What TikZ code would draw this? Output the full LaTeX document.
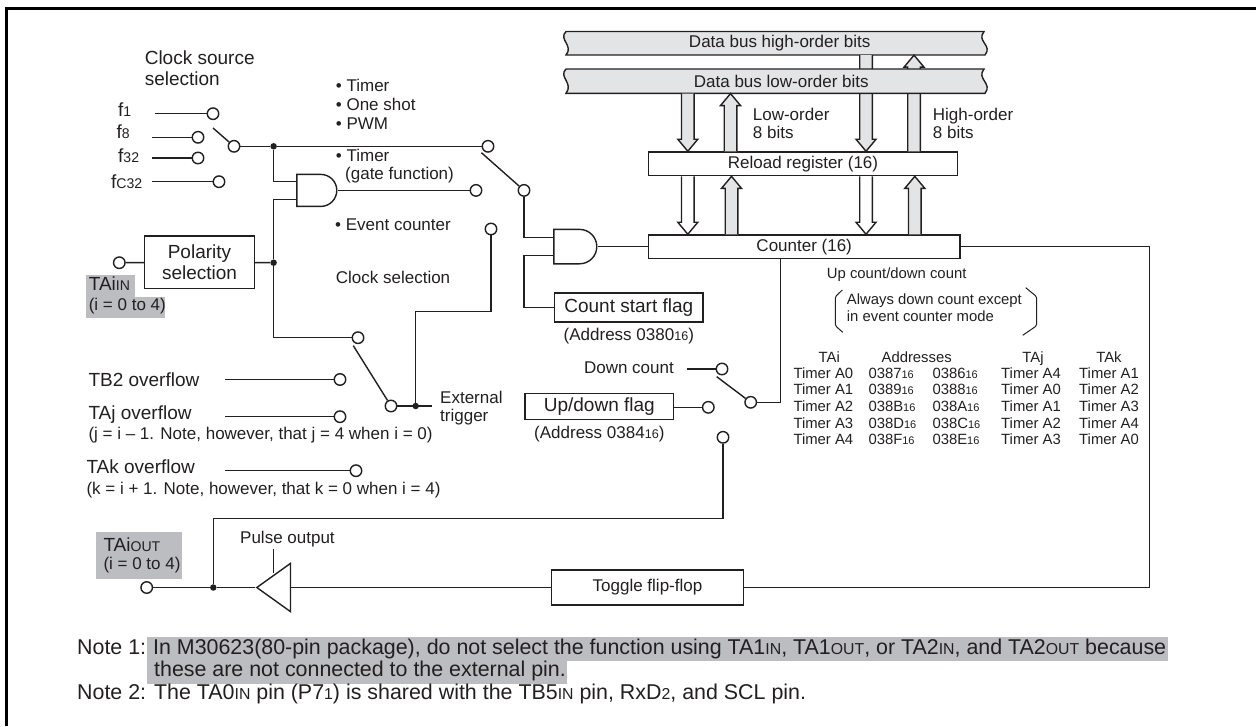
\documentclass[tikz,border=0pt]{standalone}
\usepackage{fontspec}
\setmainfont{Liberation Sans}
\usetikzlibrary{positioning,calc,shapes.geometric,shapes.gates.logic.US}
\definecolor{ink}{HTML}{231F20}
\definecolor{busgray}{HTML}{E3E4E5}
\definecolor{hilite}{HTML}{BCBDC0}
\newcommand{\sm}[1]{{\addfontfeature{Scale=0.74}#1}}
\newcommand{\busband}[2]{%
  \filldraw[wire, fill=busgray] (566,#1) .. controls (558,#1+8) and (574,#1+14) .. (566,#2)
    -- (985,#2) .. controls (993,#2-10) and (976,#1+10) .. (984,#1) -- cycle;}

\begin{document}
\begin{tikzpicture}[
    x=1pt, y=-1pt,
    every node/.style={text=ink},
    wire/.style={draw=ink, line width=1.4pt},
    term/.style={circle, draw=ink, fill=white, line width=1.4pt, inner sep=0pt, minimum size=11.5pt},
    junc/.style={circle, fill=ink, inner sep=0pt, minimum size=6.5pt},
    block/.style={rectangle, draw=ink, fill=white, line width=1.4pt, inner sep=0pt, align=center, font=\fontsize{17}{21}\selectfont},
    bigblock/.style={block, font=\fontsize{19}{21}\selectfont},
    lbl/.style={inner sep=0pt, anchor=west, align=left, text height=12pt, text depth=3.5pt, font=\fontsize{17}{18}\selectfont},
    biglbl/.style={lbl, text height=13.5pt, text depth=4pt, font=\fontsize{19}{21}\selectfont},
    mlbl/.style={inner sep=0pt, anchor=west, align=left, font=\fontsize{17}{18}\selectfont},
    tbl/.style={inner sep=0pt, anchor=west, text height=10.5pt, text depth=3pt, font=\fontsize{14.85}{17}\selectfont},
    notelbl/.style={lbl, text height=15pt, text depth=4.5pt, font=\fontsize{21.4}{23}\selectfont},
    shadebox/.style={fill=hilite, inner sep=0pt, anchor=north west},
    andg/.style={and gate US, draw=ink, line width=1.4pt, fill=white, logic gate inputs=nn, inner sep=0pt, minimum height=30.4pt, minimum width=40pt, anchor=output},
    bit/.style={wire, to path={($(\tikztostart)+(-6.3,0)$) -- ($(\tikztotarget)+(-6.3,12*#1)$) -- ($(\tikztotarget)+(-10,12*#1)$) -- (\tikztotarget) -- ($(\tikztotarget)+(10,12*#1)$) -- ($(\tikztotarget)+(6.3,12*#1)$) -- ($(\tikztostart)+(6.3,0)$)}},
    bitdown/.style={bit=-1},
    bitup/.style={bit=1}
]
\useasboundingbox (0,0) rectangle (1256,726);

% Frame
\draw[draw=black, line width=3pt] (1256,8) -- (6,8) -- (6,726);

% Grey marks behind the pin names and the first note
\node[shadebox, minimum width=49.3pt, minimum height=22pt] (inmark) at (85.7,275) {};
\node[shadebox, minimum width=79.3pt, minimum height=21pt] (inmarkb) at (85.7,296.5) {};
\node[shadebox, minimum width=86pt, minimum height=47pt] (outmark) at (96,532) {};
\node[shadebox, minimum width=1021pt, minimum height=24pt] (notemark) at (147,636.7) {};
\node[shadebox, minimum width=420pt, minimum height=23.3pt] (notemarkb) at (147,660.7) {};

% Clock source selection
\node[inner sep=0pt, anchor=west, align=left, font=\fontsize{19}{21.3}\selectfont] (clksrc) at (144.6,68) {Clock source\\selection};
\node[biglbl] (f1) at (118,112) {f\sm{1}};
\node[biglbl] (f8) at (116.5,134) {f\sm{8}};
\node[biglbl] (f32) at (118,158) {f\sm{32}};
\node[biglbl] (fc32) at (111,184) {f\sm{C32}};
\coordinate (f1s) at (154.6,113.7);
\coordinate (f8s) at (152,137.3);
\coordinate (f32s) at (152,158);
\coordinate (fc32s) at (152,181.7);
\node[term] (t1) at (213,113.7) {};
\node[term] (t8) at (198,137.3) {};
\node[term] (t32) at (198,158) {};
\node[term] (tc32) at (219,181.7) {};
\draw[wire] (f1s) -- (t1);
\draw[wire] (f8s) -- (t8);
\draw[wire] (f32s) -- (t32);
\draw[wire] (fc32s) -- (tc32);
\node[term] (srcsw) at (234,146.3) {};
\coordinate (srcarm) at (213,128);
\draw[wire] (srcarm) -- (srcsw);

% Mode selection
\node[junc] (dota) at (273.6,146.3) {};
\node[term] (modetop) at (488,146.3) {};
\draw[wire] (srcsw) -- (dota) -- (modetop);
\node[lbl] (btimer) at (335.7,87.3) {• Timer};
\node[lbl] (boneshot) at (335.7,106.7) {• One shot};
\node[lbl] (bpwm) at (335.7,125.3) {• PWM};
\node[lbl] (bgate) at (335.7,157.3) {• Timer};
\node[lbl] (gatefn) at (345,175.7) {(gate function)};
\node[lbl] (bevent) at (335,226.7) {• Event counter};
\node[lbl] (clksel) at (335.7,279.3) {Clock selection};
\node[andg] (gatea) at (337.5,190.4) {};
\coordinate (gain1) at ($(gatea.west)+(0,-8.7)$);
\coordinate (gain2) at ($(gatea.west)+(0,8.9)$);
\node[term] (modegate) at (476,190.4) {};
\draw[wire] (gatea.output) -- (modegate);
\node[term] (modesw) at (524,190.4) {};
\coordinate (modearm) at (481.4,152.7);
\draw[wire] (modearm) -- (modesw);
\node[term] (modeevent) at (491,229) {};

% TAiIN input
\node[term] (tain) at (119.3,262.7) {};
\node[bigblock, minimum width=109.7pt, minimum height=52.7pt] (polar) at (199.5,262.4) {Polarity\\selection};
\node[junc] (dotb) at (273.6,262.7) {};
\node[biglbl] (tainlab) at (88.6,286) {TAi\sm{IN}};
\node[lbl] (tainsub) at (88.6,306) {(i = 0 to 4)};
\draw[wire] (tain) -- (polar);
\draw[wire] (polar) -- (dotb);
\draw[wire] (dota) |- (gain1);
\draw[wire] (dotb) |- (gain2);

% Event clock selection
\node[term] (evtop) at (358,337.7) {};
\draw[wire] (dotb) |- (evtop);
\node[biglbl] (tb2lab) at (88.3,381.7) {TB2 overflow};
\node[biglbl] (tajlab) at (88.3,415) {TAj overflow};
\node[lbl] (tajsub) at (88.3,435) {(j = i – 1. Note, however, that j = 4 when i = 0)};
\node[biglbl] (taklab) at (86.3,469) {TAk overflow};
\node[lbl] (taksub) at (86.3,490) {(k = i + 1. Note, however, that k = 0 when i = 4)};
\coordinate (tb2s) at (225,379.5);
\coordinate (tajs) at (225,416.7);
\coordinate (taks) at (225,470.7);
\node[term] (ttb2) at (340,379.5) {};
\node[term] (ttaj) at (340,416.7) {};
\node[term] (ttak) at (356,470.7) {};
\draw[wire] (tb2s) -- (ttb2);
\draw[wire] (tajs) -- (ttaj);
\draw[wire] (taks) -- (ttak);
\node[term] (evsw) at (391,406) {};
\coordinate (evarm) at (353.3,345.7);
\draw[wire] (evarm) -- (evsw);
\node[junc] (dotc) at (415.7,406) {};
\coordinate (extend) at (431.7,406);
\draw[wire] (evsw) -- (extend);
\coordinate (evcorner) at (415.7,311.7);
\draw[wire] (dotc) -- (evcorner) -| (modeevent);
\node[mlbl] (exttrig) at (440,407.7) {External\\trigger};

% Count gate
\node[andg, minimum width=43pt] (gateb) at (597.5,246.6) {};
\coordinate (gbin1) at ($(gateb.west)+(0,-8.9)$);
\coordinate (gbin2) at ($(gateb.west)+(0,8.7)$);
\draw[wire] (modesw) |- (gbin1);
\node[bigblock, minimum width=148.4pt, minimum height=29pt] (csflag) at (628.8,307.5) {Count start flag};
\node[lbl, anchor=north, below=6pt of csflag] (csaddr) {(Address 0380\sm{16})};
\coordinate (gatecorner) at (524,255.3);
\draw[wire] (gbin2) -- (gatecorner) |- (csflag);

% Data bus and registers
\node[block, minimum width=309.4pt, minimum height=23.7pt] (reload) at (803,163.8) {Reload register (16)};
\node[block, minimum width=311.7pt, minimum height=23.3pt] (counter) at (804.2,246.6) {Counter (16)};
\draw[wire] (gateb.output) -- (counter);
\coordinate (cola) at (687.8,0);
\coordinate (colb) at (730.5,0);
\coordinate (colc) at (866,0);
\coordinate (cold) at (914,0);
\coordinate (colbb) at (731.5,0);
\coordinate (coldd) at (914.8,0);
\busband{31.5}{55}
\node[inner sep=0pt, minimum width=400pt, minimum height=23.5pt, font=\fontsize{17}{18}\selectfont] (bushigh) at (779.7,43.2) {Data bus high-order bits};
\filldraw[bitdown, fill=busgray] (colc |- bushigh.south) to (colc |- reload.north);
\filldraw[bitup, fill=busgray] (cold |- reload.north) to (cold |- bushigh.south);
\busband{69}{93.3}
\node[inner sep=0pt, minimum width=400pt, minimum height=24.3pt, font=\fontsize{17}{18}\selectfont] (buslow) at (781.3,81.2) {Data bus low-order bits};
\filldraw[bitdown, fill=busgray] (cola |- buslow.south) to (cola |- reload.north);
\filldraw[bitup, fill=busgray] (colb |- reload.north) to (colb |- buslow.south);
\filldraw[bitdown, fill=white] (cola |- reload.south) to (cola |- counter.north);
\filldraw[bitup, fill=busgray] (colbb |- counter.north) to (colbb |- reload.south);
\filldraw[bitdown, fill=white] (colc |- reload.south) to (colc |- counter.north);
\filldraw[bitup, fill=busgray] (coldd |- counter.north) to (coldd |- reload.south);
\node[mlbl] (lowbits) at (752.7,123.7) {Low-order\\8 bits};
\node[mlbl] (highbits) at (932.7,123.7) {High-order\\8 bits};

% Count direction
\coordinate (cntdrop) at (780.7,258.3);
\node[term] (dirsw) at (750.7,402.3) {};
\draw[wire] (cntdrop) |- (dirsw);
\coordinate (dirarm) at (716.7,376.7);
\draw[wire] (dirarm) -- (dirsw);
\node[term] (dirdown) at (722,369) {};
\node[lbl, anchor=east, inner sep=0pt] (dnlab) at (674,369.3) {Down count};
\coordinate (dns) at (686.7,369);
\draw[wire] (dns) -- (dirdown);
\node[bigblock, minimum width=148.7pt, minimum height=26pt] (udflag) at (599.3,406.3) {Up/down flag};
\node[lbl, anchor=north, below=6pt of udflag] (udaddr) {(Address 0384\sm{16})};
\node[term] (dirud) at (708.3,407.3) {};
\draw[wire] (udflag.east |- dirud) -- (dirud);
\node[term] (dirout) at (723,437.3) {};

% Count notes
\node[inner sep=0pt, anchor=west, font=\fontsize{14.85}{17}\selectfont] (updn) at (826.7,274.3) {Up count/down count};
\node[inner sep=0pt, anchor=west, align=left, font=\fontsize{14.85}{17}\selectfont] (always) at (846.7,307.8) {Always down count except\\in event counter mode};
\draw[wire, line width=1pt, rounded corners=1.5pt] (842.3,290) -- (835.3,296.7) -- (835.3,325.7) -- (842.7,332.3);
\draw[wire, line width=1pt, rounded corners=1.5pt] (1025.7,287.7) -- (1036.7,296.7) -- (1036.7,325.7) -- (1022.7,335.3);

% Address table
\node[tbl, anchor=center] (htai) at (829.3,358.3) {TAi};
\node[tbl, anchor=center] (haddr) at (916.7,358.3) {Addresses};
\node[tbl, anchor=center] (htaj) at (1033,358.3) {TAj};
\node[tbl, anchor=center] (htak) at (1109,358.3) {TAk};
\foreach \tmr/\adh/\adl/\tmj/\tmk [count=\r] in {A0/0387/0386/A4/A1, A1/0389/0388/A0/A2, A2/038B/038A/A1/A3, A3/038D/038C/A2/A4, A4/038F/038E/A3/A0} {
  \node[tbl] (tmi\r) at (793.3,{374.3+16.67*(\r-1)}) {Timer \tmr};
  \node[tbl] (adh\r) at (868.3,{374.3+16.67*(\r-1)}) {\adh\sm{16}};
  \node[tbl] (adl\r) at (932.3,{374.3+16.67*(\r-1)}) {\adl\sm{16}};
  \node[tbl] (tmj\r) at (1001,{374.3+16.67*(\r-1)}) {Timer \tmj};
  \node[tbl] (tmk\r) at (1079,{374.3+16.67*(\r-1)}) {Timer \tmk};
}

% Output stage
\node[block, minimum width=191.5pt, minimum height=35pt] (toggle) at (647.5,587.5) {Toggle flip-flop};
\coordinate (railtop) at (1149.3,246.6);
\draw[wire] (counter) -- (railtop) |- (toggle);
\node[isosceles triangle, shape border rotate=180, isosceles triangle stretches, draw=ink, line width=1.4pt, inner sep=0pt, minimum height=33.7pt, minimum width=48.3pt, anchor=apex] (pulsebuf) at (255,587.5) {};
\draw[wire] (toggle) -- (pulsebuf.lower side);
\node[junc] (dotd) at (213.3,587.5) {};
\node[term] (taout) at (146.7,587.5) {};
\draw[wire] (pulsebuf.apex) -- (dotd) -- (taout);
\coordinate (fbcorner) at (723,518.3);
\draw[wire] (dotd) |- (fbcorner) -- (dirout);
\node[lbl] (pulselab) at (240,539) {Pulse output};
\coordinate (stubtop) at (273.3,549);
\coordinate (stubend) at (273.3,573.3);
\draw[wire] (stubtop) -- (stubend);
\node[biglbl] (taoutlab) at (103.3,546.7) {TAi\sm{OUT}};
\node[lbl] (taoutsub) at (103.3,565) {(i = 0 to 4)};

% Notes
\node[notelbl] (note1) at (77,649) {Note 1:};
\node[notelbl] (note1a) at (153,649) {In M30623(80-pin package), do not select the function using TA1\sm{IN}, TA1\sm{OUT}, or TA2\sm{IN}, and TA2\sm{OUT} because};
\node[notelbl] (note1b) at (154,671.7) {these are not connected to the external pin.};
\node[notelbl] (note2) at (77,694) {Note 2: The TA0\sm{IN} pin (P7\sm{1}) is shared with the TB5\sm{IN} pin, RxD\sm{2}, and SCL pin.};

\end{tikzpicture}
\end{document}
